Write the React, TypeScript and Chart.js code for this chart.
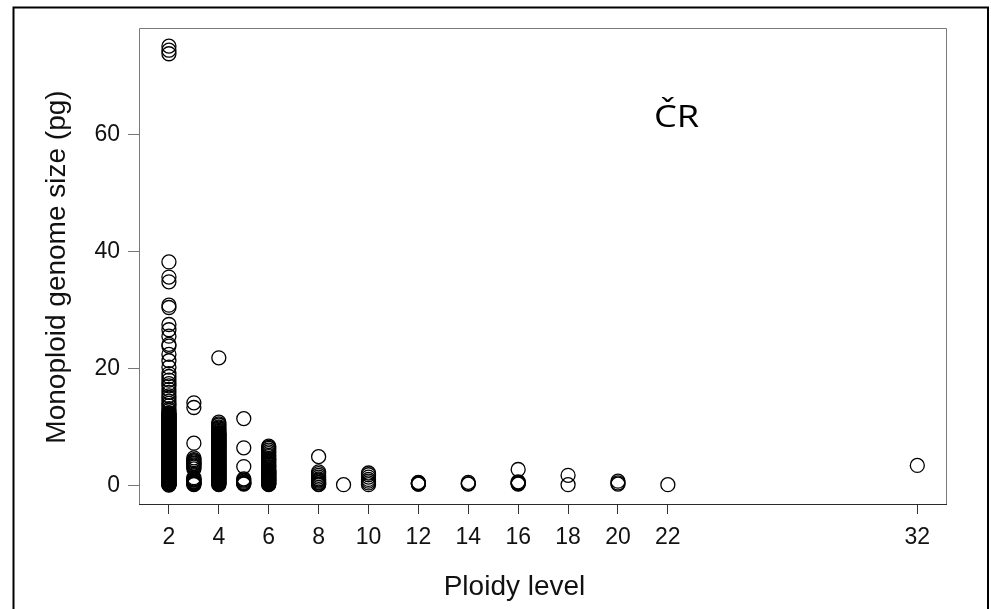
import React, { useEffect, useRef } from "react";
import { Chart, registerables } from "chart.js";

Chart.register(...registerables);

// Axis ticks
const xTickValues = [2, 4, 6, 8, 10, 12, 14, 16, 18, 20, 22, 32];
const yTickValues = [0, 20, 40, 60];

// Monoploid genome size (pg) by ploidy level
const ploidy2 = [
  75.1, 74.4, 73.8, 38.2, 35.6, 34.8, 30.8, 30.4, 27.5, 26.6, 25.5, 24.1, 23.8, 22.4, 21.3,
  20.2, 19.1, 18.6, 18.0, 17.4, 17.0, 16.4, 15.9, 15.3, 14.9, 14.4, 14.0, 13.6, 13.1, 12.8,
  12.4, 12.3, 12.2, 12.1, 12.0, 11.9, 11.8, 11.7, 11.6, 11.5, 11.4, 11.3, 11.2, 11.1, 11.0,
  10.9, 10.8, 10.7, 10.6, 10.5, 10.4, 10.3, 10.2, 10.1, 10.0, 9.9, 9.8, 9.7, 9.6, 9.5, 9.4,
  9.3, 9.2, 9.1, 9.0, 8.9, 8.8, 8.7, 8.6, 8.5, 8.4, 8.3, 8.2, 8.1, 8.0, 7.9, 7.8, 7.7, 7.6,
  7.5, 7.4, 7.3, 7.2, 7.1, 7.0, 6.9, 6.8, 6.7, 6.6, 6.5, 6.4, 6.3, 6.2, 6.1, 6.0, 5.9, 5.8,
  5.7, 5.6, 5.5, 5.4, 5.3, 5.2, 5.1, 5.0, 4.9, 4.8, 4.7, 4.6, 4.5, 4.4, 4.3, 4.2, 4.1, 4.0,
  3.9, 3.8, 3.7, 3.6, 3.5, 3.4, 3.3, 3.2, 3.1, 3.0, 2.9, 2.8, 2.7, 2.6, 2.5, 2.4, 2.3, 2.2,
  2.1, 2.0, 1.9, 1.8, 1.7, 1.6, 1.5, 1.4, 1.3, 1.2, 1.1, 1.0, 0.9, 0.8, 0.7, 0.6, 0.5, 0.4,
  0.35, 0.3, 0.25, 0.2, 0.15, 0.1, 0.05,
];
const ploidy3 = [
  14.1, 13.3, 7.2, 4.7, 4.4, 4.2, 4.0, 3.8, 3.7, 3.5, 3.3, 3.1, 2.8, 1.3, 1.1, 1.0, 0.9, 0.7,
  0.6, 0.5, 0.4, 0.3, 0.2, 0.1,
];
const ploidy4 = [
  21.8, 10.8, 10.5, 10.3, 10.0, 9.8, 9.6, 9.4, 9.2, 9.0, 8.9, 8.8, 8.7, 8.6, 8.5, 8.4, 8.3,
  8.2, 8.1, 8.0, 7.9, 7.8, 7.7, 7.6, 7.5, 7.4, 7.3, 7.2, 7.1, 7.0, 6.9, 6.8, 6.7, 6.6, 6.5,
  6.4, 6.3, 6.2, 6.1, 6.0, 5.9, 5.8, 5.7, 5.6, 5.5, 5.4, 5.3, 5.2, 5.1, 5.0, 4.9, 4.8, 4.7,
  4.6, 4.5, 4.4, 4.3, 4.2, 4.1, 4.0, 3.9, 3.8, 3.7, 3.6, 3.5, 3.4, 3.3, 3.2, 3.1, 3.0, 2.9,
  2.8, 2.7, 2.6, 2.5, 2.4, 2.3, 2.2, 2.1, 2.0, 1.9, 1.8, 1.7, 1.6, 1.5, 1.4, 1.3, 1.2, 1.1,
  1.0, 0.9, 0.8, 0.7, 0.6, 0.5, 0.4, 0.3, 0.2, 0.1,
];
const ploidy5 = [11.4, 6.4, 3.2, 1.1, 0.9, 0.7, 0.5, 0.4, 0.3, 0.2];
const ploidy6 = [
  6.7, 6.5, 6.3, 6.0, 5.7, 5.4, 5.1, 4.9, 4.6, 4.4, 4.2, 4.0, 3.8, 3.6, 3.4, 3.2, 3.0, 2.8,
  2.6, 2.5, 2.4, 2.3, 2.2, 2.1, 2.0, 1.9, 1.8, 1.7, 1.6, 1.5, 1.4, 1.3, 1.2, 1.1, 1.0, 0.9,
  0.8, 0.7, 0.6, 0.5, 0.4, 0.3, 0.2, 0.1,
];
const ploidy8 = [4.9, 2.3, 2.0, 1.7, 1.4, 1.1, 0.9, 0.7, 0.5, 0.4, 0.2, 0.1];
const ploidy9 = [0.1];
const ploidy10 = [2.1, 1.8, 1.4, 1.0, 0.7, 0.4, 0.1];
const ploidy12 = [0.5, 0.4, 0.35, 0.3, 0.2, 0.2];
const ploidy14 = [0.5, 0.3, 0.2];
const ploidy16 = [2.7, 0.6, 0.45, 0.4, 0.3, 0.2];
const ploidy18 = [1.7, 0.1];
const ploidy20 = [0.7, 0.4, 0.2];
const ploidy22 = [0.1];
const ploidy32 = [3.4];

const ploidyLevels = [2, 3, 4, 5, 6, 8, 9, 10, 12, 14, 16, 18, 20, 22, 32];
const genomeSizes = [
  ploidy2, ploidy3, ploidy4, ploidy5, ploidy6, ploidy8, ploidy9, ploidy10,
  ploidy12, ploidy14, ploidy16, ploidy18, ploidy20, ploidy22, ploidy32,
];

const xTitle = "Ploidy level";
const yTitle = "Monoploid genome size (pg)";
const panelLabel = "ČR";

const FONT = "'Liberation Sans', Arial, sans-serif";

const framePlugin = {
  id: "frame",
  afterDraw(chart: any) {
    const ctx = chart.ctx as CanvasRenderingContext2D;
    const { left, top, right, bottom } = chart.chartArea;
    ctx.save();
    // plot box
    ctx.lineWidth = 1;
    ctx.strokeStyle = "#7a7a7a";
    ctx.beginPath();
    ctx.moveTo(left - 0.5, bottom);
    ctx.lineTo(left - 0.5, top + 0.5);
    ctx.lineTo(right - 0.5, top + 0.5);
    ctx.lineTo(right - 0.5, bottom);
    ctx.stroke();
    ctx.strokeStyle = "#2a2a2a";
    ctx.beginPath();
    ctx.moveTo(left - 1, bottom + 0.5);
    ctx.lineTo(right, bottom + 0.5);
    ctx.stroke();

    // outer frame
    ctx.strokeStyle = "#000";
    ctx.lineWidth = 2;
    ctx.beginPath();
    ctx.moveTo(13.5, 615);
    ctx.lineTo(13.5, 7.5);
    ctx.lineTo(988, 7.5);
    ctx.lineTo(988, 615);
    ctx.stroke();

    // axis titles
    ctx.fillStyle = "#111";
    ctx.font = `28px ${FONT}`;
    ctx.textAlign = "center";
    ctx.textBaseline = "alphabetic";
    ctx.fillText(xTitle, 514.5, 595);
    ctx.save();
    ctx.translate(65, 267);
    ctx.rotate(-Math.PI / 2);
    ctx.fillText(yTitle, 0, 0);
    ctx.restore();

    // panel label
    ctx.save();
    ctx.fillStyle = "#000";
    ctx.font = `31px 'Open Sans', 'Noto Sans', sans-serif`;
    ctx.textAlign = "left";
    ctx.translate(654, 127);
    ctx.scale(1.17, 1);
    ctx.fillText(panelLabel, 0, 0);
    ctx.restore();
    ctx.restore();
  },
};

export default function App() {
  const canvasRef = useRef<HTMLCanvasElement | null>(null);

  useEffect(() => {
    if (!canvasRef.current) return;
    const points: { x: number; y: number }[] = [];
    ploidyLevels.forEach((p, i) => {
      genomeSizes[i].forEach((v) => points.push({ x: p, y: v }));
    });

    const chart = new Chart(canvasRef.current, {
      type: "scatter",
      data: {
        datasets: [
          {
            data: points,
            pointStyle: "circle",
            pointRadius: 7,
            pointHoverRadius: 7,
            pointBorderWidth: 1.3,
            borderColor: "#000",
            backgroundColor: "rgba(0,0,0,0)",
          },
        ],
      },
      options: {
        animation: false,
        responsive: false,
        maintainAspectRatio: false,
        events: [],
        layout: { padding: { left: 0, right: 44, top: 28, bottom: 0 } },
        plugins: {
          legend: { display: false },
          tooltip: { enabled: false },
          title: { display: false },
        },
        scales: {
          x: {
            type: "linear",
            min: 0.84,
            max: 33.19,
            afterBuildTicks: (axis: any) => {
              axis.ticks = xTickValues.map((v) => ({ value: v }));
            },
            afterFit: (scale: any) => {
              scale.height = 105;
            },
            border: { display: false },
            grid: {
              display: true,
              drawOnChartArea: false,
              drawTicks: true,
              tickLength: 10,
              tickColor: "#333",
              color: "#333",
            },
            ticks: {
              autoSkip: false,
              maxRotation: 0,
              padding: 10,
              color: "#111",
              font: { family: FONT, size: 23 },
              callback: (v: any) => String(v),
            },
          },
          y: {
            type: "linear",
            min: -3.2,
            max: 78.2,
            afterBuildTicks: (axis: any) => {
              axis.ticks = yTickValues.map((v) => ({ value: v }));
            },
            afterFit: (scale: any) => {
              scale.width = 140;
            },
            border: { display: false },
            grid: {
              display: true,
              drawOnChartArea: false,
              drawTicks: true,
              tickLength: 12,
              tickColor: "#777",
              color: "#777",
            },
            ticks: {
              padding: 8,
              color: "#111",
              font: { family: FONT, size: 23 },
              callback: (v: any) => String(v),
            },
          },
        },
      },
      plugins: [framePlugin],
    });
    return () => chart.destroy();
  }, []);

  return (
    <div style={{ position: "fixed", left: 0, top: 0, width: 991, height: 609, background: "#fff" }}>
      <canvas ref={canvasRef} width={991} height={609} style={{ width: 991, height: 609, display: "block" }} />
    </div>
  );
}
